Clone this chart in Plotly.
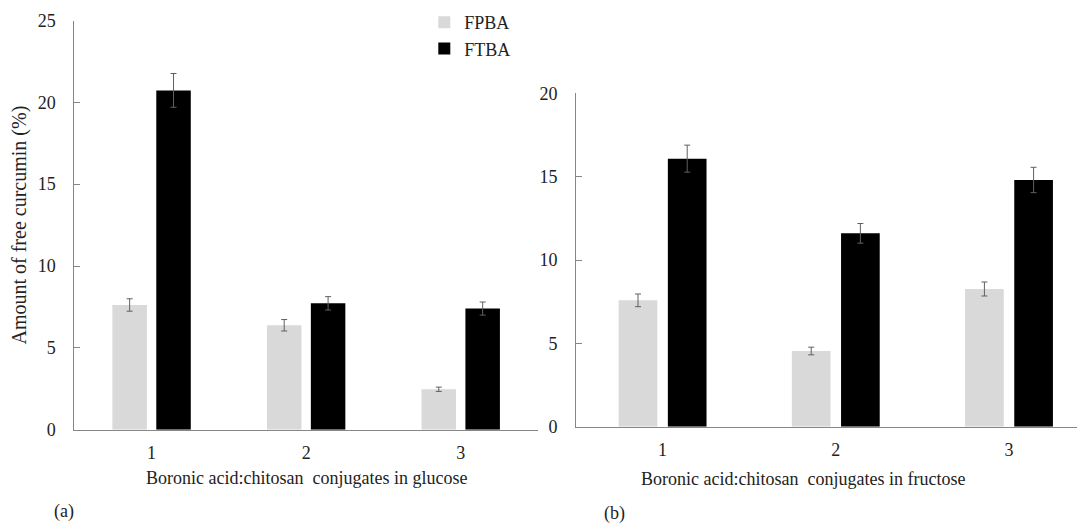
import plotly.graph_objects as go

categories = ["1", "2", "3"]
series_names = ["FPBA", "FTBA"]

# Panel (a): glucose
glucose_fpba = [7.62, 6.38, 2.47]
glucose_fpba_err = [0.38, 0.35, 0.13]
glucose_ftba = [20.73, 7.72, 7.40]
glucose_ftba_err = [1.03, 0.41, 0.40]

# Panel (b): fructose
fructose_fpba = [7.58, 4.54, 8.26]
fructose_fpba_err = [0.38, 0.23, 0.42]
fructose_ftba = [16.08, 11.60, 14.80]
fructose_ftba_err = [0.81, 0.59, 0.76]

y_title = "Amount of free curcumin (%)"
x_title_a = "Boronic acid:chitosan  conjugates in glucose"
x_title_b = "Boronic acid:chitosan  conjugates in fructose"
left_ticks = [0, 5, 10, 15, 20, 25]
right_ticks = [0, 5, 10, 15, 20]

FONT = "Liberation Serif"
colors = {"FPBA": "#d9d9d9", "FTBA": "#000000"}
err_color = "#606060"
axis_color = "#868686"

W, H = 1085, 528
OFF = 8  # page body margin offset compensation

def px(x):
    return (x - OFF) / W

def py(y):
    return 1 - (y - OFF) / H

fig = go.Figure()

def add_bar(name, y, err, xa, ya, show):
    fig.add_trace(go.Bar(
        name=name, x=categories, y=y,
        marker=dict(color=colors[name], line=dict(width=0)),
        error_y=dict(type="data", array=err, visible=True,
                     color=err_color, thickness=1, width=3),
        xaxis=xa, yaxis=ya, showlegend=show,
    ))

add_bar("FPBA", glucose_fpba, glucose_fpba_err, "x", "y", True)
add_bar("FTBA", glucose_ftba, glucose_ftba_err, "x", "y", True)
add_bar("FPBA", fructose_fpba, fructose_fpba_err, "x2", "y2", False)
add_bar("FTBA", fructose_ftba, fructose_ftba_err, "x2", "y2", False)

common_x = dict(type="category", showline=True, linecolor=axis_color, linewidth=1,
                ticks="", showgrid=False, zeroline=False, automargin=False,
                tickfont=dict(family=FONT, size=18, color="#222"),
                ticklabelstandoff=7)
common_y = dict(showline=True, linecolor=axis_color, linewidth=1,
                ticks="inside", ticklen=6, tickcolor=axis_color,
                showgrid=False, zeroline=False, automargin=False,
                tickfont=dict(family=FONT, size=18, color="#222"),
                ticklabelstandoff=14)

right_start = 576
cat_w_right = 173.2
right_units = (W + OFF - right_start) / cat_w_right

fig.update_layout(
    width=W, height=H, autosize=False,
    margin=dict(l=0, r=0, t=0, b=0, pad=0, autoexpand=False),
    paper_bgcolor="white", plot_bgcolor="white",
    barmode="group", bargap=0.432, bargroupgap=0.214,
    font=dict(family=FONT, size=18, color="#222"),
    xaxis=dict(domain=[px(74.3), px(538)], range=[-0.5, 2.5], anchor="y", **common_x),
    yaxis=dict(domain=[py(429.7), py(20.5)], range=[0, 25], tickvals=left_ticks,
               anchor="x",
               title=dict(text=y_title, font=dict(family=FONT, size=20, color="#222"),
                          standoff=8),
               **common_y),
    xaxis2=dict(domain=[px(right_start), 1], range=[-0.5, -0.5 + right_units],
                anchor="y2", **common_x),
    yaxis2=dict(domain=[py(426.7), py(93.3)], range=[0, 20], tickvals=right_ticks,
                anchor="x2", **common_y),
    legend=dict(x=px(465 - 40.7), y=1 + 4 / H, xanchor="left", yanchor="top",
                font=dict(family=FONT, size=18, color="#222"),
                bgcolor="rgba(0,0,0,0)", itemwidth=30, tracegroupgap=0),
    annotations=[
        dict(text=x_title_a, x=px(306), y=py(478), xref="paper", yref="paper",
             xanchor="center", yanchor="middle", showarrow=False,
             font=dict(family=FONT, size=18, color="#222")),
        dict(text=x_title_b, x=px(803), y=py(479), xref="paper", yref="paper",
             xanchor="center", yanchor="middle", showarrow=False,
             font=dict(family=FONT, size=18, color="#222")),
        dict(text="(a)", x=px(64), y=py(511), xref="paper", yref="paper",
             xanchor="center", yanchor="middle", showarrow=False,
             font=dict(family=FONT, size=18, color="#222")),
        dict(text="(b)", x=px(614), y=py(513), xref="paper", yref="paper",
             xanchor="center", yanchor="middle", showarrow=False,
             font=dict(family=FONT, size=18, color="#222")),
    ],
)

fig.write_html("out.html")
